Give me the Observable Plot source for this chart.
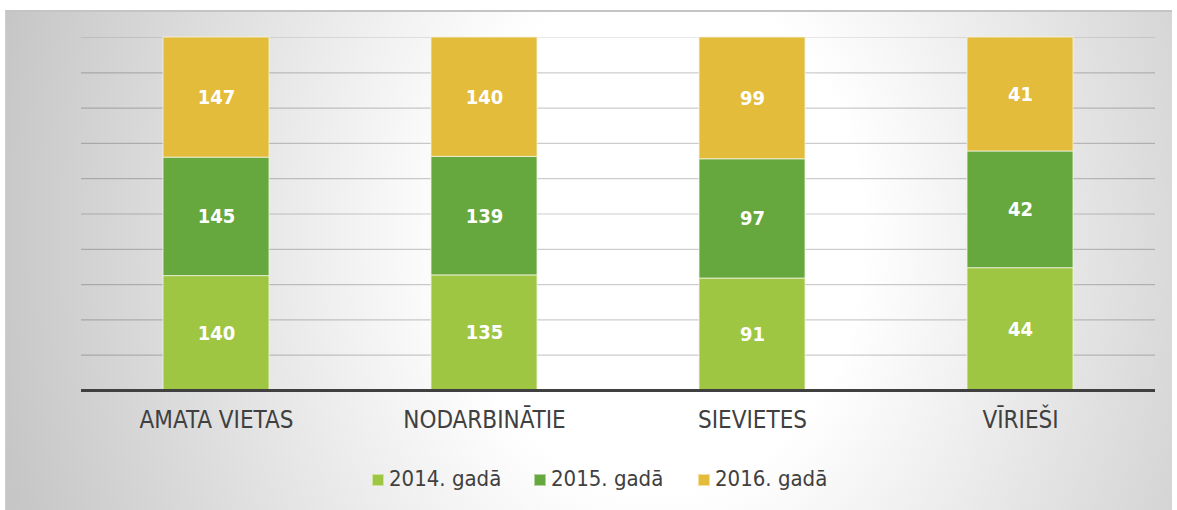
<!DOCTYPE html>
<html>
<head>
<meta charset="utf-8">
<script src="https://cdn.jsdelivr.net/npm/d3@7"></script>
<script src="https://cdn.jsdelivr.net/npm/@observablehq/plot@0.6"></script>
<style>
  html, body { margin: 0; padding: 0; background: #fff; }
  #page { position: relative; width: 1177px; height: 510px; overflow: hidden; background: #fff; }
  #frame {
    position: absolute; left: 5px; top: 10px; width: 1167px; height: 500px;
    border-top: 2px solid #c4c4c4; border-left: 1px solid #cfcfcf;
    box-sizing: border-box;
    background: radial-gradient(ellipse 58% 170% at 56% 45%, #ffffff 0%, #ffffff 30%, #c6c6c6 100%);
  }
  #chart { position: absolute; left: 0; top: 0; }
  #legend {
    position: absolute; left: 0; top: 466px; width: 1177px;
    font-family: "DejaVu Sans Condensed", "DejaVu Sans", sans-serif; font-size: 22px; color: #404040;
  }
  .item { position: absolute; top: 0; white-space: nowrap; }
  .sw { position: absolute; top: 8px; width: 10px; height: 10px; border: 1px solid rgba(255,255,255,0.5); }
  .lt { position: absolute; left: 17px; top: 0; }
</style>
</head>
<body>
<div id="page">
  <div id="frame"></div>
  <div id="chart"></div>
  <div id="legend"></div>
</div>
<script>
const categories = ["AMATA VIETAS", "NODARBINĀTIE", "SIEVIETES", "VĪRIEŠI"];
const years = ["2014. gadā", "2015. gadā", "2016. gadā"];
const values2014 = [140, 135, 91, 44];
const values2015 = [145, 139, 97, 42];
const values2016 = [147, 140, 99, 41];
const colors = ["#9ec642", "#66a83d", "#e3bc3b"];
const gridTicks = [0.1, 0.2, 0.3, 0.4, 0.5, 0.6, 0.7, 0.8, 0.9];
const topTick = [1.0];

const series = [values2014, values2015, values2016];
const data = [];
years.forEach((yr, i) => {
  categories.forEach((c, j) => data.push({cat: c, year: yr, value: series[i][j]}));
});

const font = '"DejaVu Sans Condensed", "DejaVu Sans", sans-serif';

const chart = Plot.plot({
  width: 1177,
  height: 440,
  marginLeft: 81,
  marginRight: 22,
  marginTop: 37,
  marginBottom: 50,
  style: {background: "transparent", fontFamily: font, overflow: "visible"},
  x: {domain: categories, paddingInner: 0.605, paddingOuter: 0.3025, label: null},
  y: {domain: [0, 1], axis: null},
  color: {domain: years, range: colors},
  marks: [
    Plot.ruleY(gridTicks, {stroke: "#000", strokeOpacity: 0.2, strokeWidth: 1.2}),
    Plot.ruleY(topTick, {stroke: "#000", strokeOpacity: 0.09, strokeWidth: 1.2}),
    Plot.barY(data, Plot.stackY({offset: "normalize", x: "cat", y: "value", z: "year", fill: "year", stroke: "#f4f4e0", strokeWidth: 1, strokeOpacity: 0.8})),
    Plot.text(data, Plot.stackY({offset: "normalize", x: "cat", y: "value", z: "year", text: d => String(d.value), fill: "white", fontSize: 20, fontWeight: "bold", fontFamily: font})),
    Plot.ruleY([0], {stroke: "#404040", strokeWidth: 3}),
    Plot.axisX({tickSize: 0, tickPadding: 20, fontSize: 24, fill: "#404040", label: null})
  ]
});
document.getElementById("chart").appendChild(chart);

const legend = document.getElementById("legend");
const positions = [372, 534, 698];
years.forEach((yr, i) => {
  const it = document.createElement("div");
  it.className = "item";
  it.style.left = positions[i] + "px";
  const sw = document.createElement("div");
  sw.className = "sw";
  sw.style.background = colors[i];
  const lt = document.createElement("div");
  lt.className = "lt";
  lt.textContent = yr;
  it.appendChild(sw); it.appendChild(lt);
  legend.appendChild(it);
});
</script>
</body>
</html>
